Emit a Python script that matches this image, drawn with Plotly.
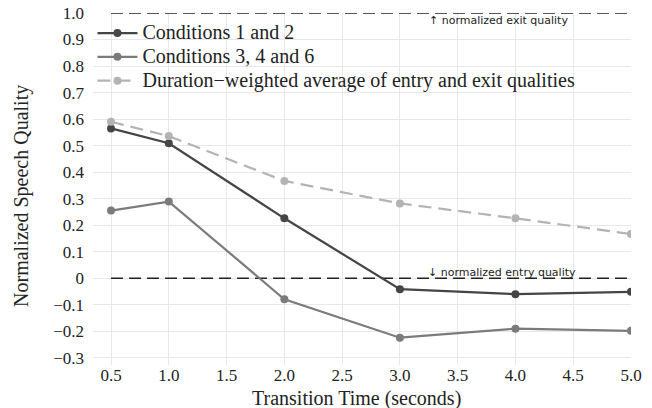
import plotly.graph_objects as go

x = [0.5, 1.0, 2.0, 3.0, 4.0, 5.0]
cond12 = [0.565, 0.509, 0.226, -0.041, -0.060, -0.051]
cond346 = [0.255, 0.289, -0.079, -0.224, -0.190, -0.198]
weighted = [0.590, 0.536, 0.367, 0.282, 0.226, 0.167]
ref_x = [0.5, 5.0]
exit_q = [1.0, 1.0]
entry_q = [0.0, 0.0]
names = ["Conditions 1 and 2", "Conditions 3, 4 and 6",
         "Duration\u2212weighted average of entry and exit qualities"]
xticks = [0.5, 1.0, 1.5, 2.0, 2.5, 3.0, 3.5, 4.0, 4.5, 5.0]
xticklabels = ["0.5", "1.0", "1.5", "2.0", "2.5", "3.0", "3.5", "4.0", "4.5", "5.0"]
yticks = [-0.3, -0.2, -0.1, 0, 0.1, 0.2, 0.3, 0.4, 0.5, 0.6, 0.7, 0.8, 0.9, 1.0]
yticklabels = ["\u22120.3", "\u22120.2", "\u22120.1", "0", "0.1", "0.2", "0.3", "0.4",
               "0.5", "0.6", "0.7", "0.8", "0.9", "1.0"]

serif = "Liberation Serif"
txt = "#222222"


def big(s):
    return '<span style="font-size:20px">' + s + '</span>'


fig = go.Figure()
fig.add_trace(go.Scatter(x=ref_x, y=exit_q, mode="lines", showlegend=False,
                         line=dict(color=txt, width=1.3, dash="12px,6px"), cliponaxis=False,
                         hoverinfo="skip"))
fig.add_trace(go.Scatter(x=ref_x, y=entry_q, mode="lines", showlegend=False,
                         line=dict(color=txt, width=1.3, dash="12px,6px"), hoverinfo="skip"))
fig.add_trace(go.Scatter(x=x, y=cond12, mode="lines+markers", name=big(names[0]),
                         line=dict(color="#454545", width=2.2), marker=dict(size=8, color="#454545")))
fig.add_trace(go.Scatter(x=x, y=cond346, mode="lines+markers", name=big(names[1]),
                         line=dict(color="#7b7b7b", width=2.2), marker=dict(size=8, color="#7b7b7b")))
fig.add_trace(go.Scatter(x=x, y=weighted, mode="lines+markers", name=big(names[2]),
                         line=dict(color="#b3b3b3", width=2.2, dash="13px,7px"),
                         marker=dict(size=8, color="#b3b3b3")))

fig.add_annotation(x=3.85, y=0.972, text="\u2191 normalized exit quality", showarrow=False,
                   font=dict(family="DejaVu Sans", size=11, color=txt), yanchor="middle")
fig.add_annotation(x=3.88, y=0.021, text="\u2193 normalized entry quality", showarrow=False,
                   font=dict(family="DejaVu Sans", size=11, color=txt), yanchor="middle")
fig.add_annotation(xref="paper", yref="paper", x=-0.134, y=0.48, text="Normalized Speech Quality",
                   textangle=-90, showarrow=False, xanchor="center", yanchor="middle",
                   font=dict(family=serif, size=20, color=txt))
fig.add_annotation(xref="paper", yref="paper", x=0.49, y=-0.094, text="Transition Time (seconds)",
                   showarrow=False, xanchor="center", yanchor="middle",
                   font=dict(family=serif, size=20, color=txt))

fig.update_layout(
    width=652, height=408,
    margin=dict(l=93, r=21, t=13, b=43),
    paper_bgcolor="white", plot_bgcolor="white",
    font=dict(family=serif, size=17, color=txt),
    legend=dict(x=-0.001, y=0.991, xanchor="left", yanchor="top",
                bgcolor="rgba(0,0,0,0)",
                font=dict(family=serif, size=16, color=txt), tracegroupgap=0,
                itemwidth=40),
    xaxis=dict(range=[0.344, 5.0], tickvals=xticks, ticktext=xticklabels, showgrid=True,
               gridcolor="#e8e8e8", gridwidth=1, zeroline=False, showline=False, ticks="",
               automargin=False, tickfont=dict(family=serif, size=17, color=txt),
               ticklabelstandoff=-2),
    yaxis=dict(range=[-0.327, 1.0], tickvals=yticks, ticktext=yticklabels, showgrid=True,
               gridcolor="#e8e8e8", gridwidth=1, zeroline=False, showline=False, ticks="",
               automargin=False, tickfont=dict(family=serif, size=17, color=txt),
               ticklabelstandoff=8),
)
fig.write_html("out.html")
